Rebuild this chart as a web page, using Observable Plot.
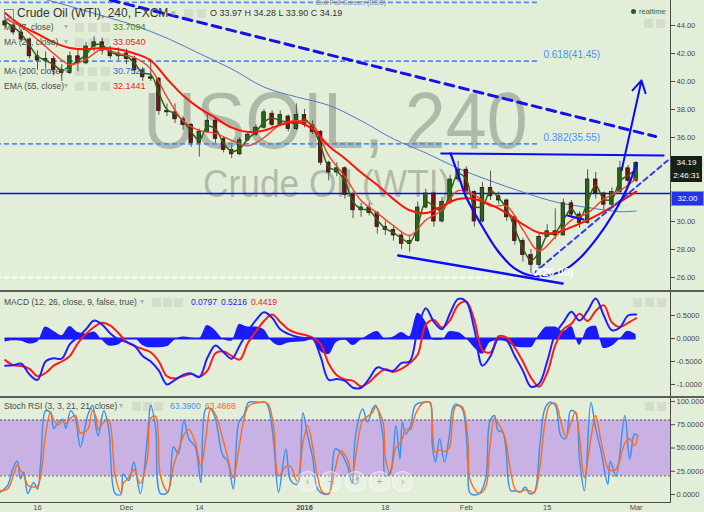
<!DOCTYPE html>
<html><head><meta charset="utf-8">
<script src="https://cdn.jsdelivr.net/npm/d3@7"></script>
<script src="https://cdn.jsdelivr.net/npm/@observablehq/plot@0.6"></script>
<style>
html,body{margin:0;padding:0;background:#e3eed9;}
#chart{position:relative;width:704px;height:512px;overflow:hidden;background:#e3eed9;font-family:"Liberation Sans",Arial,Helvetica,sans-serif;}
#chart svg{position:absolute;left:0;}
.ov{position:absolute;white-space:nowrap;line-height:1;}
.sep{position:absolute;left:0;width:704px;height:2px;background:#5b5f5b;}
.wm{position:absolute;white-space:nowrap;color:rgba(80,92,80,0.36);transform-origin:0 0;line-height:1;}
.icon{position:absolute;width:9px;height:9px;background:rgba(0,0,0,0.07);border-radius:1px;}
.box{position:absolute;left:671px;width:31px;height:13px;font-size:8px;color:#fff;text-align:center;line-height:13px;}
.nav{position:absolute;width:19px;height:19px;border-radius:50%;background:rgba(255,255,255,0.22);border:1px solid rgba(255,255,255,0.55);color:rgba(150,150,150,0.8);font-size:11px;line-height:19px;text-align:center;}
</style></head>
<body><div id="chart"></div>
<script>
// ---------------- DATA ----------------
const days = ("2015-11-10 2015-11-11 2015-11-12 2015-11-13 2015-11-16 2015-11-17 2015-11-18 2015-11-19 2015-11-20 2015-11-23 2015-11-24 2015-11-25 2015-11-26 2015-11-27 2015-11-30 " +
 "2015-12-01 2015-12-02 2015-12-03 2015-12-04 2015-12-07 2015-12-08 2015-12-09 2015-12-10 2015-12-11 2015-12-14 2015-12-15 2015-12-16 2015-12-17 2015-12-18 2015-12-21 2015-12-22 2015-12-23 2015-12-24 2015-12-28 2015-12-29 2015-12-30 2015-12-31 " +
 "2016-01-04 2016-01-05 2016-01-06 2016-01-07 2016-01-08 2016-01-11 2016-01-12 2016-01-13 2016-01-14 2016-01-15 2016-01-18 2016-01-19 2016-01-20 2016-01-21 2016-01-22 2016-01-25 2016-01-26 2016-01-27 2016-01-28 2016-01-29 " +
 "2016-02-01 2016-02-02 2016-02-03 2016-02-04 2016-02-05 2016-02-08 2016-02-09 2016-02-10 2016-02-11 2016-02-12 2016-02-15 2016-02-16 2016-02-17 2016-02-18 2016-02-19 2016-02-22 2016-02-23 2016-02-24 2016-02-25 2016-02-26 2016-02-29 2016-03-01").split(" ");
const originDay = "2015-11-16";

const open  = [44.3,44.0,43.5,43.0,41.8,41.5,41.6,40.8,40.6,41.8,41.3,42.5,42.8,42.2,41.8,42.0,41.6,40.8,40.3,40.2,37.9,37.8,37.3,36.9,35.6,36.4,37.2,35.9,35.1,34.8,35.8,36.2,36.7,37.7,36.9,37.5,36.6,37.6,36.9,36.4,34.2,33.5,33.8,31.9,30.8,31.0,30.6,29.6,29.4,29.0,28.4,28.6,31.0,32.0,30.0,31.4,33.0,33.7,32.1,30.0,32.4,31.8,31.5,30.3,28.6,27.6,26.9,28.9,29.3,29.0,31.3,30.5,29.9,33.0,32.0,31.2,32.1,33.8,32.9];
const high  = [44.6,44.2,43.7,43.1,42.2,42.1,41.8,41.2,42.1,42.3,42.8,43.2,43.1,42.5,42.4,42.3,41.8,41.0,41.6,40.3,38.4,38.4,37.5,37.0,36.6,37.7,37.4,36.0,35.4,36.0,36.4,36.9,38.0,37.9,37.9,37.6,38.4,38.0,37.2,36.5,34.3,34.2,33.9,32.1,31.3,31.3,30.7,30.0,29.7,29.3,29.0,31.4,32.3,32.1,31.7,33.3,34.3,33.9,32.2,32.8,33.6,32.1,31.6,30.4,28.8,28.0,29.2,29.8,30.9,31.6,31.5,30.7,33.7,33.5,32.1,32.4,34.3,34.0,34.28];
const low   = [43.8,43.3,42.8,41.6,40.8,41.0,40.4,40.0,40.5,40.7,41.2,42.1,41.9,41.6,41.5,41.2,40.5,40.0,40.0,37.6,37.5,37.0,36.5,35.3,34.6,36.3,35.6,34.9,34.5,34.7,35.7,36.1,36.6,36.7,36.8,36.4,36.5,36.7,36.2,34.0,32.9,33.2,31.6,30.2,30.3,30.4,29.1,29.0,28.6,28.0,27.8,28.5,30.9,29.6,29.9,31.2,32.8,31.9,29.6,29.9,31.5,31.2,30.0,28.3,27.1,26.3,26.6,28.9,28.7,29.0,30.2,29.5,29.8,31.6,30.8,31.0,32.0,32.6,32.8];
const close = [44.0,43.5,43.0,41.8,41.5,41.6,40.8,40.6,41.8,41.3,42.5,42.8,42.2,41.8,42.0,41.6,40.8,40.3,40.2,37.9,37.8,37.3,36.9,35.6,36.4,37.2,35.9,35.1,34.8,35.8,36.2,36.7,37.8,36.9,37.6,36.6,37.6,36.9,36.4,34.2,33.5,33.8,31.9,30.8,31.0,30.6,29.6,29.4,29.0,28.4,28.6,31.0,32.0,30.0,31.4,33.0,33.7,32.1,30.0,32.4,31.8,31.5,30.3,28.6,27.6,26.9,28.9,29.3,29.0,31.3,30.5,29.9,33.0,32.0,31.2,32.1,33.8,32.9,34.19];
const ma7   = [44.3,43.9,43.4,42.6,41.8,41.5,41.2,40.8,41.1,41.5,41.9,42.6,42.6,42.1,41.9,41.8,41.3,40.6,40.5,39.2,38.0,37.7,37.2,36.4,35.8,36.8,36.6,35.6,35.0,35.2,35.9,36.4,37.1,37.4,37.2,37.1,37.0,37.3,36.7,35.4,33.9,33.6,32.9,31.4,30.9,30.8,30.1,29.5,29.2,28.8,28.5,29.7,31.4,31.1,30.7,32.1,33.4,33.0,31.1,31.1,32.2,31.7,30.9,29.5,28.1,27.2,27.8,29.0,29.2,30.1,30.9,30.2,31.4,32.6,31.6,31.6,32.9,33.3,33.71];

// smoother averages read every second session (bar index, 0 = 16 Nov)
const maIdx = [-4,-2,0,2,4,6,8,10,12,14,16,18,20,22,24,26,28,30,32,34,36,38,40,42,44,46,48,50,52,54,56,58,60,62,64,66,68,70,72,74];
const ma20  = [44.5,43.9,43.0,42.0,41.2,41.6,42.3,42.0,41.7,40.9,38.9,37.2,36.5,36.3,35.8,35.4,36.0,36.9,37.2,36.9,34.7,33.2,31.5,30.6,29.7,29.0,30.1,30.8,32.2,31.9,31.1,31.1,29.4,27.9,28.9,30.1,30.6,31.6,32.2,33.05];
const ema55 = [44.9,44.0,43.4,42.8,42.4,42.3,42.4,42.3,42.0,41.5,40.2,39.0,38.1,37.4,36.7,36.4,36.5,36.9,37.1,36.6,35.4,34.5,33.5,32.6,31.6,30.8,30.6,31.1,31.6,31.6,31.2,30.6,29.8,29.2,29.2,29.6,30.1,30.7,31.4,32.14];
const ma200Idx = [-4,2,8,12,16,20,24,28,32,36,40,44,48,52,56,60,64,68,72,74];
const ma200    = [46.6,45.7,44.7,44.0,43.1,42.0,40.9,39.6,38.9,38.3,37.2,35.9,34.9,33.8,32.9,32.1,31.4,31.0,30.7,30.75];

// MACD (12, 26, close, 9), one reading per session
const macd   = [-0.59,-0.58,-0.55,-0.78,-0.9,-0.5,-0.43,-0.44,-0.12,0.03,0.2,0.39,0.3,0.11,-0.02,-0.08,-0.16,-0.38,-0.5,-0.7,-1.0,-0.9,-0.79,-0.76,-0.84,-0.42,-0.15,-0.3,-0.44,-0.15,0.15,0.4,0.57,0.45,0.2,0.1,0.04,0.01,0.0,-0.4,-0.9,-0.88,-0.92,-1.07,-1.07,-0.87,-0.63,-0.68,-0.7,-0.53,-0.5,0.2,0.66,0.36,0.2,0.55,0.86,0.8,0.2,-0.59,-0.38,0.0,-0.05,-0.38,-0.7,-1.05,-0.98,-0.5,0.1,0.35,0.58,0.39,0.6,0.87,0.5,0.18,0.24,0.5,0.52];
const signal = [-0.47,-0.58,-0.6,-0.66,-0.82,-0.75,-0.59,-0.5,-0.38,-0.1,0.1,0.25,0.34,0.28,0.12,-0.07,-0.16,-0.23,-0.3,-0.5,-0.82,-0.87,-0.82,-0.77,-0.83,-0.7,-0.32,-0.28,-0.38,-0.46,-0.1,0.15,0.38,0.52,0.36,0.2,0.12,0.08,0.02,-0.12,-0.55,-0.8,-0.89,-0.92,-1.04,-0.95,-0.78,-0.67,-0.73,-0.66,-0.54,-0.35,0.3,0.4,0.24,0.4,0.73,0.8,0.4,-0.25,-0.3,0.05,0.02,-0.2,-0.5,-0.85,-1.05,-0.75,-0.15,0.2,0.32,0.54,0.38,0.6,0.72,0.35,0.25,0.34,0.44];
const hist   = [-0.08,-0.05,-0.06,-0.12,-0.08,0.25,0.16,0.06,0.26,0.13,0.1,0.14,-0.04,-0.17,-0.14,-0.01,0.0,-0.15,-0.2,-0.2,-0.18,-0.03,0.03,0.01,-0.01,0.28,0.17,-0.02,-0.06,0.31,0.25,0.25,0.19,-0.07,-0.16,-0.1,-0.08,-0.07,-0.02,-0.28,-0.35,-0.08,-0.03,-0.15,-0.03,0.08,0.15,-0.01,0.03,0.13,0.04,0.55,0.36,-0.04,-0.04,0.15,0.13,0.0,-0.2,-0.34,-0.08,-0.05,-0.07,-0.18,-0.2,-0.2,0.07,0.25,0.25,0.15,0.26,-0.15,0.22,0.27,-0.22,-0.17,-0.01,0.16,0.08];

// Stoch RSI (3, 3, 21, 21), read at these bar positions
const stochIdx = [-4.6,-3.7,-3.0,-2.5,-2.1,-1.7,-1.2,-0.5,0,0.4,1.0,1.6,2.0,2.6,3.1,3.5,4.1,4.7,5.3,6.2,6.8,7.2,7.5,8.2,8.8,9.6,10.3,10.6,11.3,11.9,12.7,13.6,14.0,14.6,15.2,16.1,16.8,17.4,18.1,18.7,19.5,20.2,20.8,21.4,22.0,22.9,23.5,24.2,24.9,25.5,26.1,27.3,28.2,28.6,29.2,29.8,30.7,31.3,32.1,32.8,33.4,34.0,34.6,35.2,36.0,36.8,37.5,38.3,38.9,39.3,40.2,40.8,41.4,41.8,42.7,43.0,43.6,44.3,44.8,45.1,45.5,46.1,46.7,47.6,48.5,48.8,49.2,49.7,50.3,50.9,51.3,51.7,52.5,53.2,53.5,54.6,55.4,55.9,56.5,56.9,57.5,57.9,58.5,59.1,59.7,60.3,60.8,61.4,62.1,62.7,63.3,64.0,64.7,65.3,65.9,66.5,67.0,67.6,68.4,69.0,69.6,70.5,70.8,71.5,72.6,73.2,73.8,74.2];
const stochK = [2.5,9.7,29,36,17,24,1,13,6,35,90,88,71,78,81,71,90,81,51,85,96,74,63,90,71,1,0,22,15,35,1,63,96,71,1,2.5,51,44,80,60,51,13,92,92,81,42,36,6,78,85,99,99,99,92,56,2.5,49,15,11,88,63,40,6,1,1,49,45,31,12,63,92,78,92,96,63,20,24,74,38,78,65,74,96,99,99,53,35,60,35,63,92,97,92,35,1,1,17,78,85,69,67,49,4,4,2.5,8,1,2.5,53,92,99,96,63,60,90,88,38,4,99,71,49,11,36,20,85,38,65,63.39];
const stochD = [4,6,20,32,26,21,10,8,9,20,65,89,80,75,79,76,82,85,66,70,90,84,70,78,80,20,2,12,18,27,12,40,82,84,20,3,30,47,64,70,56,30,60,92,86,60,40,18,50,80,95,99,99,96,72,20,30,30,14,55,74,52,20,3,1,28,47,38,20,40,80,84,88,94,78,40,22,50,55,60,70,70,86,98,99,75,45,48,46,50,80,95,94,60,15,1,8,50,82,77,68,57,24,5,3,5,4,2,30,75,96,98,78,62,76,89,62,18,60,85,60,28,26,27,55,60,52,63.47];

// axis ticks (34 and 32 sit under the price boxes)
const priceTicks = [26,28,30,36,38,40,42,44];
const macdTicks  = [-1,-0.5,0,0.5];
const stochTicks = [0,25,50,75,100];
const timeTickDays   = ["2015-11-16","2015-12-01","2015-12-14","2016-01-04","2016-01-18","2016-02-01","2016-02-15","2016-03-01"];
const timeTickLabels = ["16","Dec","14","2016","18","Feb","15","Mar"];

// drawings (bar index, price)
const fibLevels = [{price:45.65,label:""},{price:41.45,label:"0.618(41.45)"},{price:35.55,label:"0.382(35.55)"}];
const fibZero   = [{price:26.00,label:"0(26.00)"}];
const fibFrom = -12, fibTo = 61.8;
const hLevel = [32.00];
const downTrend = [[9.0,45.82],[76.4,36.07]];
const upTrend   = [[61.3,26.29],[77.9,34.36]];
const neckline  = [[49.9,34.86],[77.4,34.71]];
const support   = [[44.6,27.57],[64.9,25.57]];
const shortSeg  = [[65.5,30.43],[67.5,30.14]];
const cup = [[51.05,34.86],[52.04,33.29],[52.9,31.86],[54.76,29.86],[56.86,27.93],[58.84,26.71],[60.94,26.14],[63.04,26.14],[65.02,26.5],[67.12,27.43],[69.22,28.86],[71.2,30.57],[72.93,32.43],[74.04,34.14]];
const arrowUp = [{x1:72.2,y1:33.64,x2:74.66,y2:40.07}];
const lastPrice = 34.19, countdown = "2:46:31";

// ---------------- BUILD ----------------
const FONT = '"Liberation Sans", Arial, Helvetica, sans-serif';
const W = 704, MR = 34;
const i0 = days.indexOf(originDay);
const X_DOMAIN = [-4.574, 78.245];
const bars = days.map((d,k)=>({i:k-i0, open:open[k], high:high[k], low:low[k], close:close[k], ma7:ma7[k], macd:macd[k], signal:signal[k], hist:hist[k]}));
const ser = (idx, vals) => idx.map((x,k)=>({i:x, v:vals[k]}));
const pts = () => ({x: d=>d[0], y: d=>d[1]});
const axisStyle = {background:"transparent", fontFamily:FONT, fontSize:"7.5px", color:"#4a4a4a", overflow:"visible"};
const BLUE = "#0a0aff";

const chart = document.getElementById("chart");

function addWm(text, left, top, size, sx){
  const d = document.createElement("div"); d.className="wm"; d.textContent=text;
  Object.assign(d.style,{left:left+"px", top:top+"px", fontSize:size+"px", fontFamily:FONT, transform:`scaleX(${sx})`});
  chart.appendChild(d);
}
addWm("USOIL, 240", 143, 81, 80, 0.92);
addWm("Crude Oil (WTI)", 203, 165, 38, 0.93);

const pricePlot = Plot.plot({
  width: W, height: 290, marginTop:0, marginBottom:0, marginLeft:0, marginRight:MR,
  style: axisStyle,
  x: {domain: X_DOMAIN, axis: null},
  y: {domain: [25.071, 45.786], axis: "right", ticks: priceTicks, tickFormat: d=>d.toFixed(2), tickSize: 4, tickPadding: 2, line: true, label: null},
  marks: [
    Plot.ruleY(fibLevels, {y:"price", x1: fibFrom, x2: fibTo, stroke:"#4d8ef5", strokeWidth:1.7, strokeDasharray:"5,3", clip:true}),
    Plot.text(fibLevels.filter(f=>f.label), {x: fibTo, y:"price", text:"label", dx:6, dy:-6, textAnchor:"start", fill:"#4d8ef5", fontSize:10}),
    Plot.ruleY(fibZero, {y:"price", x1: fibFrom, x2: fibTo, stroke:"#ffffff", strokeWidth:1.7, strokeDasharray:"5,3", clip:true}),
    Plot.ruleY(hLevel, {stroke: BLUE, strokeWidth:1.3}),
    Plot.line(ser(ma200Idx, ma200), {x:"i", y:"v", stroke:"#4f78c8", strokeWidth:1, curve:"catmull-rom", clip:true}),
    Plot.ruleX(bars, {x:"i", y1:"low", y2:"high", stroke:"#555", strokeWidth:1, clip:true}),
    Plot.rect(bars, {x1: d=>d.i-0.22, x2: d=>d.i+0.22, y1:"open", y2:"close", fill: d=>d.close>=d.open?"#2b6420":"#7a1212", stroke:"#141414", strokeWidth:0.7, clip:true}),
    Plot.line(bars, {x:"i", y:"ma7", stroke:"#2c6410", strokeWidth:1.5, curve:"catmull-rom", clip:true}),
    Plot.line(ser(maIdx, ma20), {x:"i", y:"v", stroke:"#f2402e", strokeWidth:1.4, curve:"catmull-rom", clip:true}),
    Plot.line(ser(maIdx, ema55), {x:"i", y:"v", stroke:"#ff1208", strokeWidth:2, curve:"catmull-rom", clip:true}),
    Plot.line(downTrend, {...pts(), stroke:"#1313e6", strokeWidth:3, strokeDasharray:"9,6", clip:true}),
    Plot.line(upTrend, {...pts(), stroke:"#2a3cff", strokeWidth:2, strokeDasharray:"5,4", clip:true}),
    Plot.line(neckline, {...pts(), stroke: BLUE, strokeWidth:2}),
    Plot.line(support, {...pts(), stroke: BLUE, strokeWidth:2.5}),
    Plot.line(shortSeg, {...pts(), stroke: BLUE, strokeWidth:2}),
    Plot.line(cup, {...pts(), stroke: BLUE, strokeWidth:2.2, curve:"catmull-rom"}),
    Plot.arrow(arrowUp, {x1:"x1", y1:"y1", x2:"x2", y2:"y2", stroke: BLUE, strokeWidth:2, headLength:10}),
    Plot.text(fibZero, {x: fibTo, y:"price", text:"label", dx:-5, dy:-5, textAnchor:"start", fill:"#ffffff", fontSize:11, fontWeight:"bold"})
  ]
});
pricePlot.style.top = "0px";
chart.appendChild(pricePlot);

const sep1 = document.createElement("div"); sep1.className="sep"; sep1.style.top="290px"; chart.appendChild(sep1);

const macdPlot = Plot.plot({
  width: W, height: 104, marginTop:0, marginBottom:0, marginLeft:0, marginRight:MR,
  style: axisStyle,
  x: {domain: X_DOMAIN, axis: null},
  y: {domain: [-1.261, 1.0], axis: "right", ticks: macdTicks, tickFormat: d=>d.toFixed(4), tickSize: 4, tickPadding: 2, line: true, label: null},
  marks: [
    Plot.areaY(bars, {x:"i", y:"hist", fill:"#1a1aff", curve:"monotone-x", clip:true}),
    Plot.ruleY([0], {x1: bars[0].i, x2: bars[bars.length-1].i, stroke:"#1a1aff", strokeWidth:2, clip:true}),
    Plot.line(bars, {x:"i", y:"signal", stroke:"#ff1a1a", strokeWidth:2, curve:"catmull-rom", clip:true}),
    Plot.line(bars, {x:"i", y:"macd", stroke:"#1f1fff", strokeWidth:2, curve:"catmull-rom", clip:true})
  ]
});
macdPlot.style.top = "292px";
chart.appendChild(macdPlot);

const sep2 = document.createElement("div"); sep2.className="sep"; sep2.style.top="396px"; chart.appendChild(sep2);

const tickIdx = timeTickDays.map(d=>days.indexOf(d)-i0);
const tickLab = new Map(tickIdx.map((x,k)=>[x, timeTickLabels[k]]));
const stochPlot = Plot.plot({
  width: W, height: 114, marginTop:0, marginBottom:10, marginLeft:0, marginRight:MR,
  style: axisStyle,
  x: {domain: X_DOMAIN, axis: "bottom", ticks: tickIdx, tickFormat: d=>tickLab.get(d), tickSize:0, tickPadding:2, line:true, label:null},
  y: {domain: [-8.6, 103.2], axis: "right", ticks: stochTicks, tickFormat: d=>d.toFixed(4), tickSize: 4, tickPadding: 2, line: true, label: null},
  marks: [
    Plot.rect([{y1:20,y2:80}], {x1: X_DOMAIN[0], x2: X_DOMAIN[1], y1:"y1", y2:"y2", fill:"#c9b2e3"}),
    Plot.ruleY([20,80], {stroke:"#5a5a5a", strokeWidth:1, strokeDasharray:"2,2"}),
    Plot.line(ser(stochIdx, stochK), {x:"i", y:"v", stroke:"#3b92f0", strokeWidth:1.5, curve:"catmull-rom", clip:true}),
    Plot.line(ser(stochIdx, stochD), {x:"i", y:"v", stroke:"#ff6a1c", strokeWidth:1.4, curve:"catmull-rom", clip:true})
  ]
});
stochPlot.style.top = "398px";
chart.appendChild(stochPlot);
d3.select(stochPlot).selectAll("text").filter(function(){return this.textContent==="2016";}).attr("font-weight","bold");

// ---------------- overlays: legends & price labels ----------------
function addText(t, left, cy, size, color, extra){
  const s = document.createElement("div"); s.className="ov"; s.textContent=t;
  Object.assign(s.style,{left:left+"px", top:(cy-size/2)+"px", fontSize:size+"px", color:color, fontFamily:FONT}, extra||{});
  chart.appendChild(s); return s;
}
function addIcon(left, cy){ const d=document.createElement("div"); d.className="icon"; d.style.left=left+"px"; d.style.top=(cy-4.5)+"px"; chart.appendChild(d); }

const cb = document.createElement("div");
Object.assign(cb.style,{position:"absolute",left:"4px",top:"9px",width:"8px",height:"8px",border:"1px solid #8a8a8a"}); chart.appendChild(cb);
addText("Crude Oil (WTI), 240, FXCM", 17, 13, 12, "#333");
addText("\u25BE", 171, 13, 9, "#aaa");
addIcon(184,13); addIcon(197,13);
addText("O 33.97 H 34.28 L 33.90 C 34.19", 210, 13, 9, "#333");
addText("Exit Full Screen (ESC)", 316, 2, 7, "#8a8f98");

const legends = [
  ["MA (7, close)", 27, "33.7094", "#4f7f1c"],
  ["MA (20, close)", 42, "33.0540", "#e8241a"],
  ["MA (200, close)", 71, "30.7524", "#3b63c0"],
  ["EMA (55, close)", 86, "32.1441", "#f01a10"]
];
for (const [name, cy, val, col] of legends){
  addText(name, 4, cy, 8.5, "#4a4a4a");
  addText("\u25BE", 64, cy, 8, "#b0b0b0");
  addIcon(75,cy); addIcon(88,cy); addIcon(101,cy);
  addText(val, 113, cy, 9, col);
}
addText("MACD (12, 26, close, 9, false, true)", 4, 302, 8.5, "#4a4a4a");
addText("\u25BE", 140, 302, 8, "#b0b0b0");
addIcon(152,302); addIcon(163,302); addIcon(174,302);
addText("0.0797", 191, 302, 8.5, "#2323f5");
addText("0.5216", 221, 302, 8.5, "#2323f5");
addText("0.4419", 251, 302, 8.5, "#f01a1a");
addIcon(633,302); addIcon(645,302); addIcon(657,302);

addText("Stoch RSI (3, 3, 21, 21, close)", 4, 406, 8.5, "#4a4a4a");
addText("\u25BE", 119, 406, 8, "#b0b0b0");
addIcon(132,406); addIcon(143,406); addIcon(154,406);
addText("63.3900", 170, 406, 8.5, "#3b95ef");
addText("63.4688", 205, 406, 8.5, "#ff6a10");
addIcon(645,406); addIcon(657,406);

// chart navigation buttons
const navGlyphs = ["\u2039", "\u2212", "\u21BA", "+", "\u203A"];
const navLeft = [297, 320, 345, 369, 392];
navGlyphs.forEach((g,k)=>{ const n=document.createElement("div"); n.className="nav"; n.textContent=g; n.style.left=navLeft[k]+"px"; n.style.top="471px"; chart.appendChild(n); });

// realtime
const dot = document.createElement("div");
Object.assign(dot.style,{position:"absolute",left:"631px",top:"9px",width:"5px",height:"5px",borderRadius:"50%",background:"#1d5e2c"}); chart.appendChild(dot);
addText("realtime", 639, 12, 7.5, "#2b6b45");
addIcon(644,23); addIcon(656,23);

// price labels on the axis
const ys = pricePlot.scale("y");
function addBox(t, cy, bg, border){
  const b = document.createElement("div"); b.className="box"; b.textContent=t;
  Object.assign(b.style,{top:(cy-6.5)+"px", background:bg, border: border||"none", fontFamily:FONT});
  chart.appendChild(b);
}
const yLast = ys.apply(lastPrice);
addBox(lastPrice.toFixed(2), yLast, "#162016");
addBox(countdown, yLast+13, "#162016");
addBox(hLevel[0].toFixed(2), ys.apply(hLevel[0])+5, "#2233ee", "1px solid #7f8cff");
</script>
</body></html>
